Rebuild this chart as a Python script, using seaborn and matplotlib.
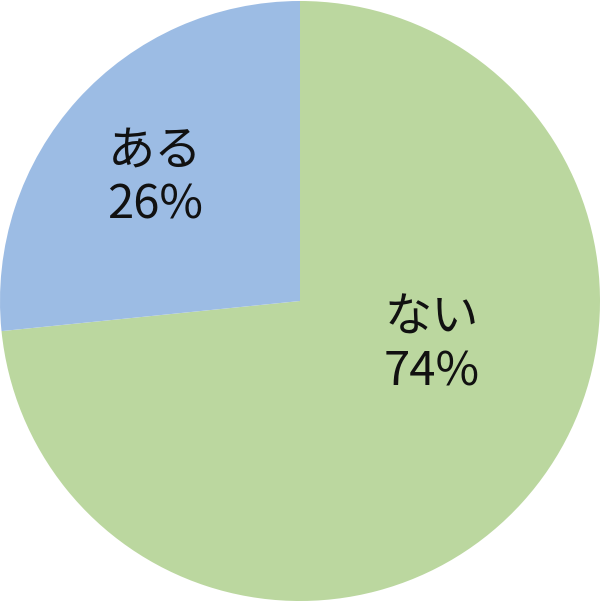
import matplotlib
matplotlib.use("Agg")
import matplotlib.pyplot as plt
import seaborn as sns

labels = ["ない", "ある"]
pct_labels = [74, 26]
# slice sizes as drawn (blue edge sits a little below 9 o'clock)
shares = [73.4, 26.6]
colors = ["#BBD79F", "#9CBCE4"]
# label block centres (in pie radius units)
label_pos = [(0.44, -0.148), (-0.483, 0.41)]

sns.set_theme(style="white")
plt.rcParams["font.family"] = ["Noto Sans CJK JP", "DejaVu Sans"]

fig = plt.figure(figsize=(6, 6.02), dpi=100)
ax = fig.add_axes([0, 0, 1, 1])
ax.pie(shares, colors=colors, startangle=90, counterclock=False,
       radius=1.0, wedgeprops=dict(linewidth=0))

for lab, val, (x, y) in zip(labels, pct_labels, label_pos):
    ax.text(x, y, f"{lab}\n{val}%", ha="center", va="center",
            fontsize=34, linespacing=1.15, color="#111111")

ax.set_xlim(-1.0, 1.0)
ax.set_ylim(-1.0, 1.0)
ax.set_aspect("equal")
ax.axis("off")
fig.savefig("out.png", dpi=100, facecolor="white")
